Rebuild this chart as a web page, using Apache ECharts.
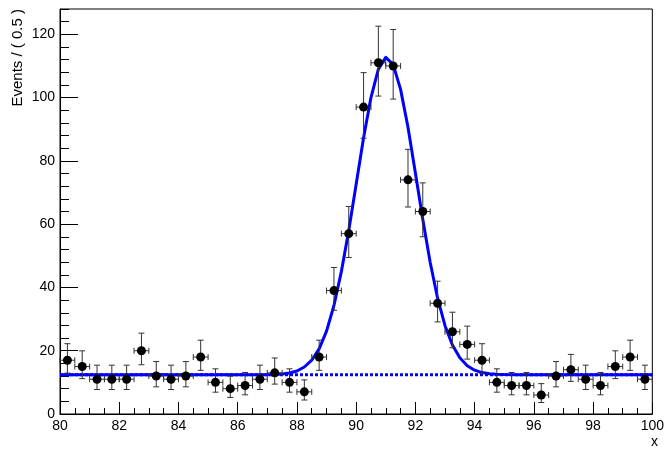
<!DOCTYPE html>
<html>
<head>
<meta charset="utf-8">
<script src="https://cdn.jsdelivr.net/npm/echarts@6/dist/echarts.min.js"></script>
<style>
  html, body { margin: 0; padding: 0; background: #fff; }
  #chart { width: 667px; height: 450px; }
</style>
</head>
<body>
<div id="chart"></div>
<script>
  // binned data, bin width 0.5
  var binCenters = [80.25, 80.75, 81.25, 81.75, 82.25, 82.75, 83.25, 83.75, 84.25, 84.75,
    85.25, 85.75, 86.25, 86.75, 87.25, 87.75, 88.25, 88.75, 89.25, 89.75,
    90.25, 90.75, 91.25, 91.75, 92.25, 92.75, 93.25, 93.75, 94.25, 94.75,
    95.25, 95.75, 96.25, 96.75, 97.25, 97.75, 98.25, 98.75, 99.25, 99.75];
  var counts = [17, 15, 11, 11, 11, 20, 12, 11, 12, 18,
    10, 8, 9, 11, 13, 10, 7, 18, 39, 57,
    97, 111, 110, 74, 64, 35, 26, 22, 17, 10,
    9, 9, 6, 12, 14, 11, 9, 15, 18, 11];
  var halfBin = 0.25;

  // fitted model (gauss + flat)
  var fitX = [80, 86, 86.5, 87, 87.25, 87.5, 87.75, 88, 88.25, 88.5, 88.75, 89, 89.25, 89.5, 89.75,
    90, 90.25, 90.5, 90.75, 91, 91.25, 91.5, 91.75, 92, 92.25, 92.5, 92.75,
    93, 93.25, 93.5, 93.75, 94, 94.25, 94.5, 94.75, 95, 95.5, 96, 100];
  var fitY = [12.4, 12.4, 12.41, 12.44, 12.5, 12.65, 12.97, 13.6, 14.85, 17.0, 20.6, 26.2, 34.3, 45.0, 58.0,
    72.6, 87.3, 100.0, 109.0, 112.7, 110.4, 102.6, 90.6, 76.2, 61.5, 47.9, 36.6,
    27.9, 21.8, 17.75, 15.27, 13.85, 13.09, 12.71, 12.53, 12.45, 12.41, 12.4, 12.4];
  var bkgX = [80, 100];
  var bkgY = [12.4, 12.4];

  var yMajorTicks = [0, 20, 40, 60, 80, 100, 120];
  var yMinorTicks = [];
  for (var t = 4; t <= 128; t += 4) {
    if (t % 20 !== 0) yMinorTicks.push(t);
  }

  // poisson intervals (Gehrels approx.)
  function errLow(n) {
    if (n <= 0) return 0;
    var f = 1 - 1 / (9 * n) - 1 / (3 * Math.sqrt(n));
    return n - n * f * f * f;
  }
  function errHigh(n) {
    return Math.sqrt(n + 0.75) + 1;
  }

  var pts = binCenters.map(function (x, i) { return [x, counts[i]]; });
  var errData = binCenters.map(function (x, i) {
    return [x, counts[i], errLow(counts[i]), errHigh(counts[i])];
  });

  function renderErr(params, api) {
    var x = api.value(0), y = api.value(1), lo = api.value(2), hi = api.value(3);
    var top = api.coord([x, y + hi]);
    var bot = api.coord([x, y - lo]);
    var l = api.coord([x - halfBin, y]);
    var r = api.coord([x + halfBin, y]);
    var cap = 3;
    var st = { stroke: '#333', lineWidth: 1 };
    return {
      type: 'group',
      children: [
        { type: 'line', shape: { x1: top[0], y1: top[1], x2: bot[0], y2: bot[1] }, style: st },
        { type: 'line', shape: { x1: top[0] - cap, y1: top[1], x2: top[0] + cap, y2: top[1] }, style: st },
        { type: 'line', shape: { x1: bot[0] - cap, y1: bot[1], x2: bot[0] + cap, y2: bot[1] }, style: st },
        { type: 'line', shape: { x1: l[0], y1: l[1], x2: r[0], y2: r[1] }, style: st },
        { type: 'line', shape: { x1: l[0], y1: l[1] - cap, x2: l[0], y2: l[1] + cap }, style: st },
        { type: 'line', shape: { x1: r[0], y1: r[1] - cap, x2: r[0], y2: r[1] + cap }, style: st }
      ]
    };
  }

  var font = 'Liberation Sans';
  var chart = echarts.init(document.getElementById('chart'));
  var option = {
    animation: false,
    backgroundColor: '#fff',
    grid: { left: 60, right: 9, top: 9, bottom: 36, show: true, borderColor: '#000', borderWidth: 1, backgroundColor: 'transparent' },
    xAxis: {
      type: 'value', min: 80, max: 100, interval: 2,
      axisLine: { lineStyle: { color: '#000', width: 1 } },
      axisTick: { inside: true, length: 12, lineStyle: { color: '#000' } },
      minorTick: { show: true, splitNumber: 4, length: 6, lineStyle: { color: '#000' } },
      axisLabel: { color: '#000', fontFamily: font, fontSize: 14, margin: 5 },
      splitLine: { show: false }
    },
    yAxis: [{
      type: 'value', min: 0, max: 128, position: 'left',
      axisLine: { show: true, lineStyle: { color: '#000', width: 1 } },
      axisTick: { inside: true, length: 18, customValues: yMajorTicks, lineStyle: { color: '#000' } },
      axisLabel: { color: '#000', fontFamily: font, fontSize: 14, margin: 5, customValues: yMajorTicks },
      splitLine: { show: false }
    }, {
      type: 'value', min: 0, max: 128, position: 'left', offset: 0,
      axisLine: { show: false },
      axisTick: { show: true, inside: true, length: 9, customValues: yMinorTicks, lineStyle: { color: '#000' } },
      axisLabel: { show: false },
      splitLine: { show: false }
    }],
    graphic: [
      { type: 'text', x: 18, y: 9, rotation: Math.PI / 2,
        style: { text: 'Events / ( 0.5 )', fontFamily: font, fontSize: 15, fill: '#000', align: 'right', verticalAlign: 'middle' } },
      { type: 'text', x: 658, y: 442,
        style: { text: 'x', fontFamily: font, fontSize: 14, fill: '#000', align: 'right', verticalAlign: 'middle' } }
    ],
    series: [
      {
        type: 'line', data: bkgX.map(function (x, i) { return [x, bkgY[i]]; }),
        showSymbol: false, lineStyle: { color: '#0000ff', width: 3, type: [3, 2] }, z: 2
      },
      {
        type: 'line', data: fitX.map(function (x, i) { return [x, fitY[i]]; }),
        showSymbol: false, smooth: false,
        lineStyle: { color: '#0000ff', width: 3, join: 'round' }, z: 3
      },
      {
        type: 'custom', data: errData, renderItem: renderErr, z: 4
      },
      {
        type: 'scatter', data: pts, symbol: 'circle', symbolSize: 9,
        itemStyle: { color: '#000', opacity: 1 }, z: 5
      }
    ]
  };
  chart.setOption(option);
</script>
</body>
</html>
